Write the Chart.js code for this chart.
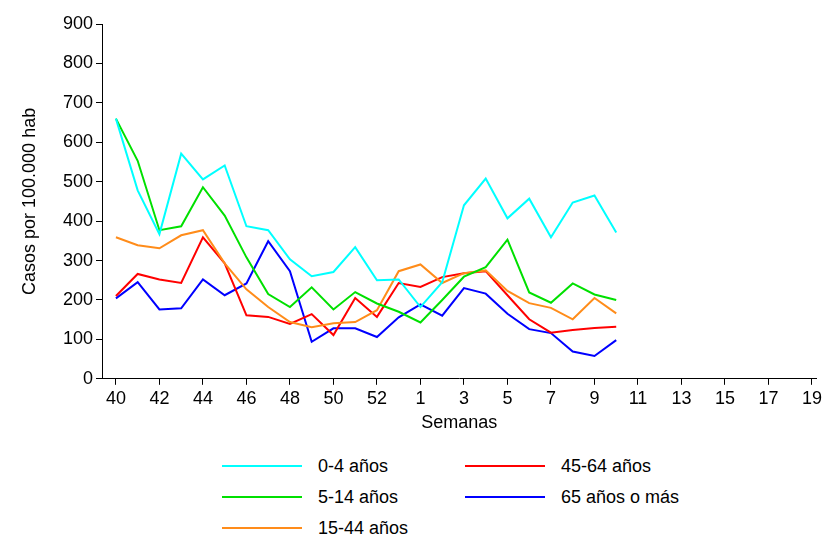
<!DOCTYPE html>
<html>
<head>
<meta charset="utf-8">
<script src="https://cdn.jsdelivr.net/npm/chart.js@4"></script>
<style>
  body { margin: 0; background: #fff; font-family: "Liberation Sans", Arial, sans-serif; }
  #wrap { position: relative; width: 825px; height: 438px; overflow: hidden; }
  #legend { position: absolute; left: 222px; top: 455px; display: grid; grid-template-columns: 243px 260px; row-gap: 9px; font-size: 18px; color: #000; }
  .item { display: flex; align-items: center; height: 22px; }
  .item span.ln { display: inline-block; width: 80px; height: 2px; margin-right: 16px; }
</style>
</head>
<body>
<div id="wrap"><canvas id="c"></canvas></div>
<div id="legend"></div>
<script>
// semanas epidemiológicas (40-53, 1-19)
const weeks = [40,41,42,43,44,45,46,47,48,49,50,51,52,53,1,2,3,4,5,6,7,8,9,10,11,12,13,14,15,16,17,18,19];
const seriesNames = ["0-4 años", "5-14 años", "15-44 años", "45-64 años", "65 años o más"];
const colors = ["#00ffff", "#00e000", "#ff8c1a", "#ff0000", "#0000ff"];

const age0_4   = [660,478,367,571,506,541,387,377,303,260,271,334,250,252,182,245,440,508,407,457,359,447,465,371];
const age5_14  = [660,553,377,387,486,414,308,215,182,232,176,220,191,170,143,200,259,283,353,219,193,242,214,200];
const age15_44 = [359,339,331,364,377,293,227,182,144,131,141,144,174,273,290,243,268,275,223,192,180,151,205,166];
const age45_64 = [210,266,252,243,359,293,161,157,139,164,111,205,157,243,233,258,268,273,212,151,117,124,129,132];
const age65    = [204,245,176,179,252,212,242,349,273,94,128,128,106,156,189,160,230,216,165,126,116,69,58,98];
const allSeries = [age0_4, age5_14, age15_44, age45_64, age65];

const datasets = allSeries.map((vals, s) => ({
  label: seriesNames[s],
  data: vals.map((v, i) => ({ x: i, y: v })),
  borderColor: colors[s],
  borderWidth: 2,
  pointRadius: 0,
  fill: false,
  tension: 0
}));

const font = { family: "'Liberation Sans', Arial, sans-serif", size: 18 };

new Chart(document.getElementById("c"), {
  type: "line",
  data: { datasets: datasets },
  options: {
    responsive: true,
    maintainAspectRatio: false,
    animation: false,
    layout: { padding: { top: 24, right: -10, left: 15 } },
    plugins: { legend: { display: false }, tooltip: { enabled: false } },
    scales: {
      x: {
        type: "linear",
        min: -0.64,
        max: 32.2,
        afterBuildTicks: axis => {
          const t = [];
          for (let i = 0; i < weeks.length; i += 2) t.push({ value: i });
          axis.ticks = t;
        },
        ticks: { color: "#000", font: font, maxRotation: 0, autoSkip: false, callback: v => weeks[v] },
        grid: { drawOnChartArea: false, color: "#000", tickLength: 6 },
        border: { color: "#000", width: 1 },
        title: { display: true, text: "Semanas", color: "#000", font: font, padding: { top: 0 } }
      },
      y: {
        min: 0,
        max: 900,
        afterFit: axis => { axis.width = 87; },
        ticks: { stepSize: 100, color: "#000", font: font },
        grid: { drawOnChartArea: false, color: "#000", tickLength: 6 },
        border: { color: "#000", width: 1 },
        title: { display: true, text: "Casos por 100.000 hab", color: "#000", font: font }
      }
    }
  }
});

const legend = document.getElementById("legend");
[0, 3, 1, 4, 2].forEach(s => {
  const d = document.createElement("div");
  d.className = "item";
  d.innerHTML = '<span class="ln" style="background:' + colors[s] + '"></span>' + seriesNames[s];
  legend.appendChild(d);
});
</script>
</body>
</html>
